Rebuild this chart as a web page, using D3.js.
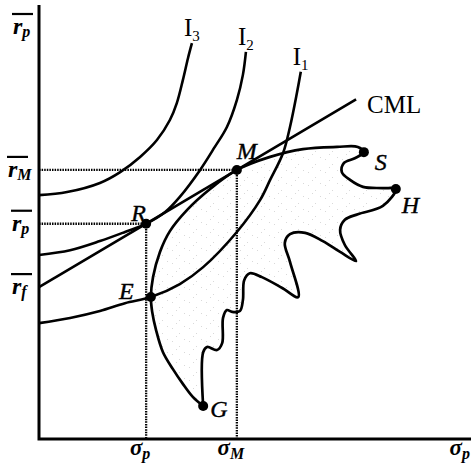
<!DOCTYPE html>
<html>
<head>
<meta charset="utf-8">
<script src="https://cdn.jsdelivr.net/npm/d3@7"></script>
<style>
  body{margin:0;background:#fff;}
  svg{display:block;}
  text{font-family:"Liberation Serif","Times New Roman",serif;fill:#000;}
</style>
</head>
<body>
<svg id="chart" width="471" height="466"></svg>
<script>
// 数据 (σ, r) 单位: 0-100
const rf=35.0;
const pointNames=["M","R","E","G","S","H"];
const pointSigma=[45.8,24.8,25.9,38.0,75.2,82.6];
const pointReturn=[62.0,49.6,32.7,7.6,66.1,57.6];
const cmlEndSigma=73.4;

const yTickValues=[62.0,49.6,35.0];
const yTickSubs=["M","p","f"];
const xTickValues=[24.8,45.8];
const xTickSubs=["p","M"];

const curveI1=[[0,26.7],[7.2,27.9],[14.1,29.5],[19.9,31.3],[25.9,32.7],[32.6,35.7],[38.0,39.6],
  [45.8,47.7],[51.2,55.1],[53.5,59.7],[56.5,65.9],[58.1,71.9],[59.7,79.7],[60.6,84.6]];
const curveI2=[[0,42.4],[7.2,43.5],[14.1,45.6],[19.9,47.7],[24.8,49.6],[29.2,52.3],[32.6,55.8],
  [37.3,62.0],[40.7,67.3],[43.5,71.9],[45.8,78.1],[47.2,83.9],[47.9,89.2]];
const curveI3=[[0,56.2],[6.5,56.9],[14.1,59.0],[18.8,61.5],[23.4,65.0],[27.3,68.9],[30.3,73.5],
  [31.9,77.4],[33.3,82.7],[34.5,87.8],[35.4,91.2]];
const curveNames=["I1","I2","I3"];

// 可行集边界 (从 G 出发, 顺时针)
const frontier=[[38.0,7.6],[35.6,9.7],[33.3,12.7],[31.0,16.1],[28.7,20.0],[27.1,25.1],[26.2,29.3],
  [25.9,32.7],[26.4,37.3],[28.0,43.1],[30.3,47.9],[34.3,52.8],[39.6,57.6],[45.8,62.0],[53.5,65.0],
  [61.1,66.8],[69.0,67.3],[73.8,67.3],[75.2,66.1],[73.1,64.7],[70.6,63.6],[70.1,61.5],[72.0,59.7],
  [75.0,58.1],[79.6,57.8],[82.6,57.6],[79.6,53.7],[73.8,51.8],[70.8,50.5],[69.7,48.2],[70.8,44.7],
  [73.4,41.0],[69.7,43.1],[65.7,45.6],[61.6,47.5],[58.1,47.2],[56.9,45.2],[58.1,40.8],[60.0,32.7],
  [56.3,34.8],[51.6,37.3],[48.8,38.2],[47.5,36.6],[47.2,32.0],[46.5,29.5],[44.7,29.3],[43.5,29.7],
  [42.6,27.9],[42.4,22.1],[41.2,20.5],[38.9,21.2],[38.0,20.0],[38.0,7.6]];

const svg=d3.select("#chart");
const x=d3.scaleLinear().domain([0,100]).range([39,471]);
const y=d3.scaleLinear().domain([0,100]).range([439,5]);

// 点状阴影
const defs=svg.append("defs");
const pat=defs.append("pattern").attr("id","stip")
  .attr("patternUnits","userSpaceOnUse").attr("width",17).attr("height",13);
[[2,3],[9,8],[14,1],[6,11]].forEach(([a,b])=>{
  pat.append("rect").attr("x",a).attr("y",b).attr("width",1).attr("height",1)
    .attr("fill","#aaa").attr("opacity",0.45);
});

const line=d3.line().x(d=>x(d[0])).y(d=>y(d[1]));
const smooth=d3.line().x(d=>x(d[0])).y(d=>y(d[1])).curve(d3.curveCatmullRom.alpha(0.5));

svg.append("path").attr("d",smooth(frontier))
  .attr("fill","url(#stip)").attr("stroke","none");

// 虚线
const pts=pointNames.map((n,i)=>({name:n,sx:pointSigma[i],ry:pointReturn[i]}));
const byName=n=>pts.find(p=>p.name===n);
["M","R"].forEach(n=>{
  const p=byName(n);
  svg.append("path").attr("d",line([[0,p.ry],[p.sx,p.ry]]))
    .attr("stroke","#000").attr("stroke-width",2.3).attr("stroke-dasharray","1.5 1.1").attr("fill","none");
  svg.append("path").attr("d",line([[p.sx,p.ry],[p.sx,0]]))
    .attr("stroke","#000").attr("stroke-width",2.3).attr("stroke-dasharray","1.5 1.1").attr("fill","none");
});

// 边界线
svg.append("path").attr("d",smooth(frontier))
  .attr("fill","none").attr("stroke","#000").attr("stroke-width",2.7).attr("stroke-linejoin","round");

// 无差异曲线
[curveI1,curveI2,curveI3].forEach((c,i)=>{
  svg.append("path").attr("d",smooth(c))
    .attr("fill","none").attr("stroke","#000").attr("stroke-width",2.6);
  const top=c[c.length-1];
  const t=svg.append("text").attr("x",x(top[0])-8).attr("y",y(top[1])-7).attr("font-size",25);
  t.append("tspan").text(curveNames[i][0]);
  t.append("tspan").attr("font-size",15).attr("dy",5).text(curveNames[i].slice(1));
});

// CML
const M=byName("M");
const slope=(M.ry-rf)/M.sx;
const cmlEnd=[cmlEndSigma,rf+slope*cmlEndSigma];
svg.append("path").attr("d",line([[0,rf],cmlEnd]))
  .attr("fill","none").attr("stroke","#000").attr("stroke-width",2.6);
svg.append("text").attr("x",x(cmlEnd[0])+11).attr("y",y(cmlEnd[1])+14)
  .attr("font-size",25).text("CML");

// 坐标轴
svg.append("path").attr("d",line([[0,100],[0,0],[100,0]]))
  .attr("fill","none").attr("stroke","#000").attr("stroke-width",3);

// 点
const offs={M:[0,-11],R:[-15,-3],E:[-32,2],G:[7,11],S:[11,18],H:[6,24]};
pts.forEach(p=>{
  svg.append("circle").attr("cx",x(p.sx)).attr("cy",y(p.ry)).attr("r",5).attr("fill","#000");
  svg.append("text").attr("x",x(p.sx)+offs[p.name][0]).attr("y",y(p.ry)+offs[p.name][1])
    .attr("font-size",24).attr("font-style","italic").attr("stroke","#000").attr("stroke-width",0.4)
    .text(p.name);
});

// 纵轴标签 r̄
function rLabel(px,py,sub){
  svg.append("line").attr("x1",px-1).attr("x2",px+20).attr("y1",py-20).attr("y2",py-20)
    .attr("stroke","#000").attr("stroke-width",2.2);
  const t=svg.append("text").attr("x",px).attr("y",py).attr("font-size",24)
    .attr("font-weight","bold").attr("font-style","italic");
  t.append("tspan").text("r");
  t.append("tspan").attr("font-size",16).attr("dy",3).text(sub);
}
yTickValues.forEach((v,i)=>rLabel(yTickSubs[i]==="M"?8:12,y(v)+7,yTickSubs[i]));
rLabel(13,34,"p");

// 横轴标签 σ
function sLabel(px,anchor,sub){
  const t=svg.append("text").attr("x",px).attr("y",455).attr("font-size",23)
    .attr("font-weight","bold").attr("font-style","italic").attr("text-anchor",anchor);
  t.append("tspan").text("σ");
  t.append("tspan").attr("font-size",16).attr("dy",4).text(sub);
}
xTickValues.forEach((v,i)=>sLabel(x(v)-6,"middle",xTickSubs[i]));
sLabel(470,"end","p");
</script>
</body>
</html>
